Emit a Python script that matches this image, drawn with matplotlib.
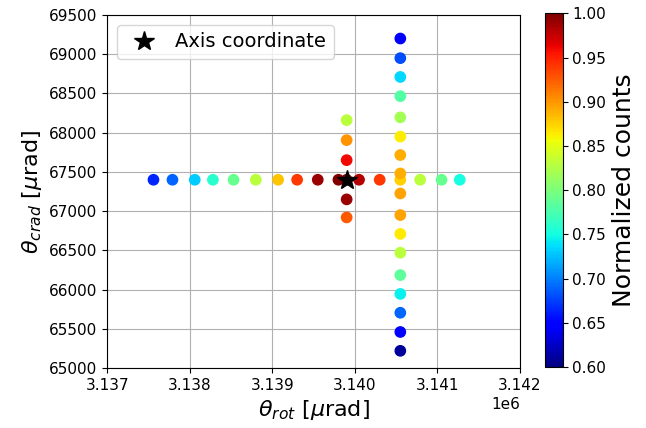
import matplotlib
matplotlib.use("Agg")
import matplotlib.pyplot as plt
import numpy as np

# horisontell skanning (theta_rot) vid theta_crad ~ 67400
row_rot = [3137560, 3137790, 3138060, 3138280, 3138530, 3138800, 3139070, 3139300,
           3139550, 3139800, 3140050, 3140300, 3140550, 3140790, 3141050, 3141270]
row_crad = [67400] * 16
row_counts = [0.665, 0.69, 0.73, 0.76, 0.79, 0.83, 0.88, 0.94,
              0.99, 1.0, 0.98, 0.94, 0.875, 0.83, 0.79, 0.75]

# vertikal skanning vid theta_rot ~ 3140550
col_rot = [3140550] * 17
col_crad = [69200, 68950, 68710, 68465, 68195, 67950, 67715, 67480, 67225,
            66950, 66710, 66470, 66185, 65945, 65705, 65460, 65220]
col_counts = [0.645, 0.68, 0.735, 0.78, 0.82, 0.864, 0.89, 0.89, 0.895,
              0.895, 0.865, 0.83, 0.785, 0.745, 0.69, 0.65, 0.61]

# kort vertikal skanning vid axeln
mid_rot = [3139900] * 6
mid_crad = [68160, 67905, 67650, 67400, 67150, 66920]
mid_counts = [0.83, 0.90, 0.96, 1.0, 0.99, 0.925]

axis_rot = 3139900
axis_crad = 67400

x = row_rot + col_rot + mid_rot
y = row_crad + col_crad + mid_crad
c = row_counts + col_counts + mid_counts

fig = plt.figure(figsize=(6.46, 4.28), dpi=100)
ax = fig.add_axes([0.166, 0.14, 0.639, 0.825])
cax = fig.add_axes([0.844, 0.142, 0.027, 0.827])

ax.grid(True, color="#b0b0b0", linewidth=0.8, zorder=0)
ax.set_axisbelow(True)
sc = ax.scatter(x, y, c=c, cmap="jet", vmin=0.6, vmax=1.0, s=55, zorder=2)
ax.plot(axis_rot, axis_crad, "*", color="black", markersize=15, linestyle="none",
        label="Axis coordinate", zorder=3)

ax.set_xlim(3137000, 3142000)
ax.set_ylim(65000, 69500)
ax.set_xticks(np.arange(3137000, 3142001, 1000))
ax.set_yticks(np.arange(65000, 69501, 500))
ax.tick_params(labelsize=11)
ax.xaxis.get_offset_text().set_fontsize(11)

ax.set_xlabel(r"$\theta_{rot}$ [$\mu$rad]", fontsize=16)
ax.set_ylabel(r"$\theta_{crad}$ [$\mu$rad]", fontsize=16)
ax.legend(loc="upper left", fontsize=14, handletextpad=0.6, borderpad=0.4)

cb = fig.colorbar(sc, cax=cax)
cb.set_ticks(np.arange(0.6, 1.001, 0.05))
cb.ax.tick_params(labelsize=11)
cb.set_label("Normalized counts", fontsize=18)

fig.savefig("out.png", dpi=100)
